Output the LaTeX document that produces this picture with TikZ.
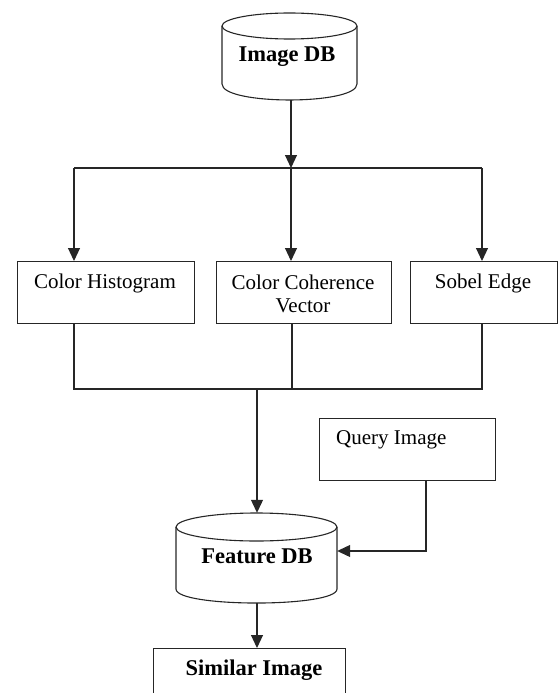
\documentclass[tikz,border=0pt]{standalone}
\usepackage{fontspec}
\setmainfont{Liberation Serif}
\usetikzlibrary{arrows.meta}
\begin{document}
\begin{tikzpicture}[x=1pt,y=-1pt,
  ln/.style={line width=1.1pt, draw=black!85},
  arr/.style={ln, -{Triangle[width=12pt,length=13pt]}},
  boxnode/.style={ln, rectangle, anchor=north west, inner sep=0pt},
  lbl/.style={font=\fontsize{21}{24}\selectfont, inner sep=0pt, align=center},
  blbl/.style={font=\fontsize{22.5}{25}\selectfont\bfseries, inner sep=0pt},
  holder/.style={rectangle, inner sep=0pt}]
\useasboundingbox (0,0) rectangle (557,693);

% Image DB cylinder
\node[holder, minimum width=135pt, minimum height=87pt] (imgdb) at (289.5,56.5) {};
\draw[ln] (222,26) -- (222,84) .. controls (222,105.3) and (357,105.3) .. (357,84) -- (357,26);
\draw[ln] (289.5,26) ellipse [x radius=67.5pt, y radius=13pt];
\node[blbl] (imgdbt) at (287,57) {Image DB};

% feature boxes
\node[boxnode, minimum width=177pt, minimum height=62pt] (ch) at (17,261) {};
\node[boxnode, minimum width=175pt, minimum height=62pt] (ccv) at (216,261) {};
\node[boxnode, minimum width=147pt, minimum height=62pt] (se) at (410,261) {};
\node[lbl] (cht) at (105,283) {Color Histogram};
\node[lbl] (ccvt) at (303,294) {Color Coherence\\[-1.5pt]Vector};
\node[lbl] (set) at (483,283) {Sobel Edge};

% split connectors
\coordinate (split) at (291,168);
\coordinate (sl) at (74,168);
\coordinate (sr) at (482,168);
\draw[arr] (imgdb.south -| split) -- (split);
\draw[ln] (sl) -- (sr);
\draw[arr] (sl) -- (sl |- ch.north);
\draw[arr] (split) -- (split |- ccv.north);
\draw[arr] (sr) -- (sr |- se.north);

% merge connectors
\coordinate (ml) at (74,389);
\coordinate (mm) at (292,389);
\coordinate (mr) at (482,389);
\coordinate (mj) at (257,389);
\draw[ln] (ml |- ch.south) -- (ml) -- (mr) -- (mr |- se.south);
\draw[ln] (mm |- ccv.south) -- (mm);

% Feature DB cylinder
\node[holder, minimum width=161pt, minimum height=90pt] (fdb) at (256.5,558) {};
\draw[ln] (176,527) -- (176,589) .. controls (176,607.7) and (337,607.7) .. (337,589) -- (337,527);
\draw[ln] (256.5,527) ellipse [x radius=80.5pt, y radius=14pt];
\node[blbl] (fdbt) at (257,556) {Feature DB};
\draw[arr] (mj) -- (mj |- fdb.north);

% Query image
\node[boxnode, minimum width=176pt, minimum height=62pt] (q) at (319,418) {};
\node[lbl, anchor=west] (qt) at (336,440) {Query Image};
\coordinate (qb) at (426,551);
\draw[arr] (q.south -| qb) -- (qb) -- (fdb.east |- qb);

% Similar image
\node[boxnode, minimum width=192pt, minimum height=60pt] (sim) at (153,648) {};
\node[blbl] (simt) at (254,670) {Similar Image};
\draw[arr] (fdb.south -| mj) -- (sim.north -| mj);
\end{tikzpicture}
\end{document}
